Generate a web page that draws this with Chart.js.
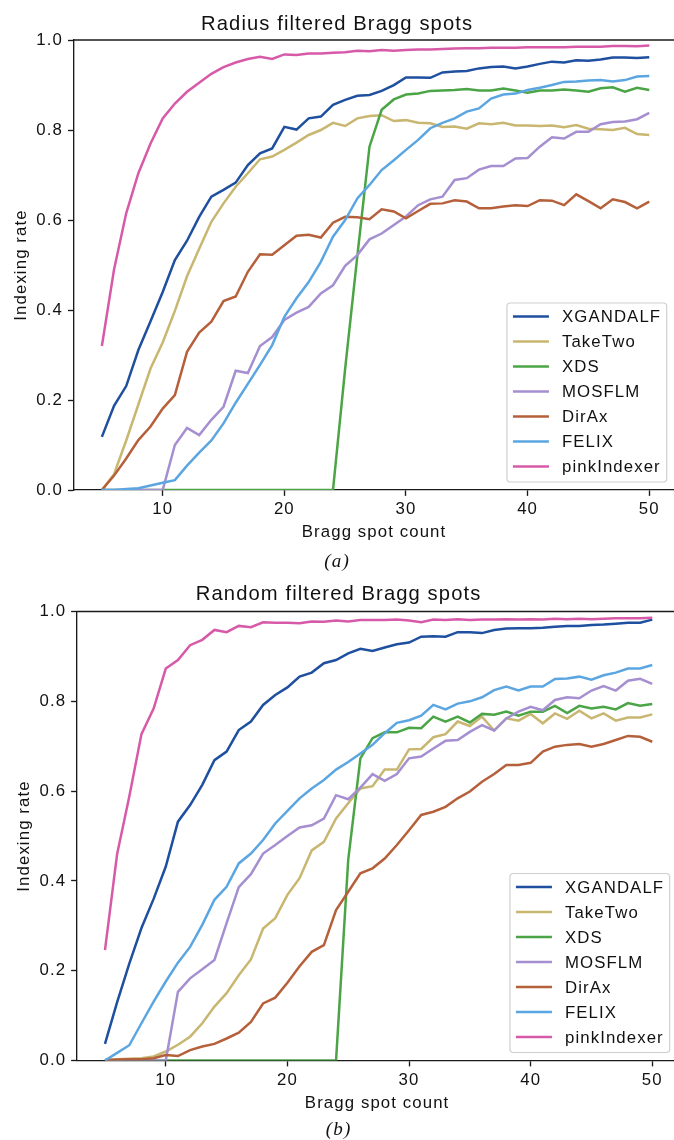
<!DOCTYPE html>
<html><head><meta charset="utf-8">
<script src="https://cdn.jsdelivr.net/npm/chart.js@4.4.1/dist/chart.umd.min.js"></script>
<style>
html,body{margin:0;padding:0;background:#fff;width:674px;height:1140px;overflow:hidden;position:relative;}
.wrap{position:absolute;left:0;width:680px;}
</style></head><body>
<div class="wrap" style="top:0;height:575px"><canvas id="c1"></canvas></div>
<div class="wrap" style="top:570px;height:570px"><canvas id="c2"></canvas></div>
<script>
// ---------- data ----------
const counts = [5,6,7,8,9,10,11,12,13,14,15,16,17,18,19,20,21,22,23,24,25,26,27,28,29,30,31,32,33,34,35,36,37,38,39,40,41,42,43,44,45,46,47,48,49,50];
const seriesNames = ['XGANDALF','TakeTwo','XDS','MOSFLM','DirAx','FELIX','pinkIndexer'];
const seriesColors = ['#1f4f9f','#c8b671','#4ba546','#a58fd0','#b5603b','#5ba6e1','#d75aa9'];
const xTickValues = [10,20,30,40,50];
const yTickValues = [0,0.2,0.4,0.6,0.8,1.0];

// (a) Radius filtered
const radXgandalf = [0.118,0.187,0.231,0.311,0.375,0.44,0.511,0.554,0.607,0.652,0.667,0.683,0.722,0.748,0.759,0.807,0.801,0.826,0.83,0.856,0.867,0.876,0.878,0.887,0.90,0.917,0.917,0.916,0.928,0.93,0.931,0.937,0.94,0.941,0.937,0.941,0.947,0.952,0.95,0.955,0.954,0.957,0.961,0.961,0.96,0.962];
const radTakeTwo = [0.0,0.035,0.11,0.19,0.27,0.328,0.398,0.475,0.536,0.596,0.637,0.674,0.704,0.735,0.741,0.756,0.772,0.789,0.80,0.816,0.809,0.826,0.831,0.833,0.82,0.822,0.816,0.815,0.807,0.808,0.803,0.815,0.813,0.816,0.81,0.81,0.809,0.81,0.806,0.811,0.803,0.802,0.80,0.805,0.791,0.789];
const radXds = [0,0,0,0,0,0,0,0,0,0,0,0,0,0,0,0,0,0,0,0,0.27,0.52,0.763,0.845,0.868,0.879,0.881,0.887,0.888,0.889,0.891,0.888,0.888,0.892,0.888,0.883,0.888,0.888,0.89,0.888,0.885,0.893,0.895,0.885,0.894,0.889];
const radMosflm = [0,0,0,0,0,0,0.10,0.138,0.122,0.156,0.185,0.265,0.26,0.32,0.34,0.378,0.394,0.407,0.437,0.455,0.498,0.522,0.557,0.57,0.589,0.608,0.633,0.646,0.652,0.689,0.693,0.712,0.72,0.72,0.737,0.738,0.763,0.784,0.781,0.796,0.796,0.813,0.818,0.819,0.824,0.838];
const radDirax = [0.0,0.032,0.07,0.111,0.141,0.181,0.211,0.307,0.35,0.374,0.42,0.43,0.485,0.524,0.523,0.544,0.565,0.567,0.561,0.594,0.607,0.606,0.602,0.624,0.619,0.604,0.62,0.636,0.637,0.644,0.641,0.626,0.626,0.63,0.633,0.631,0.644,0.643,0.633,0.657,0.642,0.626,0.646,0.64,0.626,0.641];
const radFelix = [0,0,0.002,0.004,0.01,0.016,0.022,0.054,0.083,0.11,0.148,0.194,0.236,0.278,0.322,0.385,0.426,0.462,0.507,0.563,0.60,0.648,0.678,0.711,0.733,0.756,0.778,0.804,0.816,0.826,0.841,0.848,0.87,0.879,0.881,0.889,0.894,0.90,0.907,0.908,0.91,0.911,0.908,0.911,0.919,0.92];
const radPink = [0.32,0.49,0.615,0.704,0.77,0.826,0.859,0.885,0.905,0.925,0.94,0.95,0.958,0.963,0.958,0.968,0.967,0.97,0.97,0.972,0.973,0.976,0.975,0.978,0.976,0.978,0.979,0.979,0.98,0.981,0.982,0.982,0.983,0.983,0.983,0.984,0.984,0.984,0.984,0.985,0.985,0.985,0.987,0.987,0.986,0.988];

// (b) Random filtered
const rndXgandalf = [0.037,0.13,0.216,0.295,0.36,0.432,0.532,0.569,0.614,0.669,0.688,0.736,0.755,0.792,0.814,0.831,0.855,0.864,0.885,0.892,0.907,0.917,0.912,0.92,0.927,0.931,0.944,0.945,0.944,0.954,0.954,0.952,0.959,0.962,0.963,0.963,0.964,0.966,0.968,0.968,0.97,0.971,0.973,0.975,0.975,0.982];
const rndTakeTwo = [0.002,0.003,0.004,0.005,0.009,0.02,0.035,0.053,0.083,0.12,0.15,0.19,0.225,0.294,0.317,0.369,0.406,0.468,0.487,0.539,0.573,0.606,0.611,0.648,0.648,0.693,0.694,0.72,0.727,0.755,0.745,0.766,0.735,0.762,0.757,0.772,0.751,0.773,0.761,0.779,0.762,0.773,0.757,0.764,0.764,0.771];
const rndXds = [0,0,0,0,0,0,0,0,0,0,0,0,0,0,0,0,0,0,0,0,0.447,0.673,0.718,0.731,0.731,0.741,0.74,0.766,0.755,0.766,0.753,0.772,0.77,0.777,0.768,0.777,0.777,0.79,0.774,0.79,0.784,0.788,0.782,0.796,0.79,0.794];
const rndMosflm = [0,0,0,0,0,0,0.153,0.183,0.203,0.224,0.306,0.386,0.415,0.461,0.48,0.50,0.519,0.524,0.539,0.591,0.582,0.608,0.638,0.623,0.638,0.673,0.677,0.695,0.712,0.714,0.732,0.747,0.735,0.762,0.777,0.788,0.78,0.803,0.809,0.807,0.824,0.834,0.824,0.846,0.85,0.839];
const rndDirax = [0.0,0.002,0.003,0.003,0.005,0.012,0.01,0.023,0.031,0.037,0.049,0.062,0.086,0.127,0.14,0.173,0.21,0.242,0.257,0.335,0.376,0.417,0.428,0.45,0.48,0.513,0.547,0.554,0.565,0.584,0.599,0.621,0.638,0.658,0.658,0.663,0.688,0.699,0.703,0.705,0.699,0.705,0.714,0.723,0.721,0.71];
const rndFelix = [0.0,0.017,0.034,0.083,0.131,0.176,0.218,0.253,0.302,0.358,0.387,0.439,0.461,0.491,0.528,0.556,0.584,0.606,0.625,0.648,0.665,0.684,0.703,0.729,0.752,0.758,0.768,0.792,0.782,0.795,0.80,0.809,0.825,0.833,0.824,0.833,0.833,0.85,0.851,0.855,0.848,0.858,0.864,0.873,0.873,0.881];
const rndPink = [0.246,0.46,0.588,0.727,0.784,0.873,0.892,0.925,0.937,0.959,0.954,0.968,0.965,0.976,0.975,0.975,0.974,0.978,0.977,0.98,0.978,0.981,0.981,0.981,0.982,0.98,0.976,0.982,0.981,0.983,0.981,0.982,0.982,0.983,0.982,0.983,0.982,0.984,0.983,0.984,0.983,0.984,0.985,0.985,0.985,0.986];

// ---------- plugins ----------
const FONT = "'Liberation Sans', Arial, sans-serif";
const LETTER_SPACING = '1.1px';
const INK = '#111111';
const SPINE = '#1a1a1a';

const spacing = {
  id: 'spacing',
  beforeUpdate(chart) { chart.ctx.letterSpacing = LETTER_SPACING; },
  beforeLayout(chart) { chart.ctx.letterSpacing = LETTER_SPACING; },
  beforeDraw(chart) { chart.ctx.letterSpacing = LETTER_SPACING; }
};

const topSpine = {
  id: 'topSpine',
  afterDatasetsDraw(chart) {
    const {ctx, chartArea: ca} = chart;
    ctx.save();
    ctx.strokeStyle = SPINE; ctx.lineWidth = 1.35;
    ctx.beginPath(); ctx.moveTo(ca.left - 0.7, ca.top); ctx.lineTo(ca.right + 1, ca.top); ctx.stroke();
    ctx.restore();
  }
};

const boxLegend = {
  id: 'boxLegend',
  afterDraw(chart, args, o) {
    const {ctx, chartArea: ca} = chart;
    const ds = chart.data.datasets;
    ctx.save();
    ctx.letterSpacing = LETTER_SPACING;
    ctx.font = `${o.fontSize}px ${FONT}`;
    const tw = Math.max(...ds.map(d => ctx.measureText(d.label).width));
    const w = o.padL + o.handle + o.gap + tw + o.padR;
    const h = o.padT + (ds.length - 1) * o.rowH + o.padB;
    const x1 = ca.right - o.right, x0 = x1 - w;
    const y1 = ca.bottom - o.bottom, y0 = y1 - h;
    const r = o.radius;
    ctx.beginPath();
    ctx.moveTo(x0 + r, y0);
    ctx.lineTo(x1 - r, y0); ctx.arcTo(x1, y0, x1, y0 + r, r);
    ctx.lineTo(x1, y1 - r); ctx.arcTo(x1, y1, x1 - r, y1, r);
    ctx.lineTo(x0 + r, y1); ctx.arcTo(x0, y1, x0, y1 - r, r);
    ctx.lineTo(x0, y0 + r); ctx.arcTo(x0, y0, x0 + r, y0, r);
    ctx.closePath();
    ctx.fillStyle = 'rgba(255,255,255,0.8)'; ctx.fill();
    ctx.lineWidth = 1.2; ctx.strokeStyle = '#cfcfcf'; ctx.stroke();
    ds.forEach((d, i) => {
      const y = y0 + o.padT + i * o.rowH;
      ctx.beginPath();
      ctx.moveTo(x0 + o.padL, y); ctx.lineTo(x0 + o.padL + o.handle, y);
      ctx.strokeStyle = d.borderColor; ctx.lineWidth = d.borderWidth; ctx.lineCap = 'butt';
      ctx.stroke();
      ctx.fillStyle = INK; ctx.textBaseline = 'middle'; ctx.textAlign = 'left';
      ctx.fillText(d.label, x0 + o.padL + o.handle + o.gap, y + 1);
    });
    ctx.restore();
  }
};

// ---------- chart builder ----------
function makeChart(id, cfg) {
  const datasets = cfg.series.map((vals, i) => ({
    label: seriesNames[i],
    data: counts.map((c, k) => ({x: c, y: vals[k]})),
    borderColor: seriesColors[i],
    backgroundColor: seriesColors[i],
    borderWidth: 2.5,
    pointRadius: 0,
    tension: 0,
    fill: false,
    order: seriesNames.length - i
  }));
  return new Chart(document.getElementById(id), {
    type: 'line',
    data: {datasets},
    plugins: [spacing, topSpine, boxLegend],
    options: {
      responsive: true,
      maintainAspectRatio: false,
      animation: false,
      events: [],
      layout: {padding: {left: 0, right: cfg.padRight, top: 0, bottom: 0}},
      plugins: {
        legend: {display: false},
        tooltip: {enabled: false},
        title: {
          display: true, text: cfg.title, color: INK,
          font: {family: FONT, size: 20.2, weight: 'normal', lineHeight: 1.2},
          padding: {top: cfg.titlePadTop, bottom: cfg.titlePadBottom}
        },
        subtitle: {
          display: true, position: 'bottom', text: cfg.caption, color: INK,
          font: {family: "'Liberation Serif', 'DejaVu Serif', serif", style: 'italic', size: 19, weight: 'normal', lineHeight: 1},
          padding: {top: 0, bottom: cfg.capPadBottom}
        },
        boxLegend: {fontSize: 16.8, padL: 6, handle: 36, gap: 13, padR: 5.5, padT: 13.5, rowH: 25, padB: 15.5, right: 7.5, bottom: 8, radius: 3.4}
      },
      scales: {
        x: {
          type: 'linear', min: 2.7, max: 52.05,
          afterBuildTicks: s => { s.ticks = xTickValues.map(v => ({value: v})); },
          afterFit: s => { s.height = cfg.xAxisHeight; },
          ticks: {color: INK, font: {family: FONT, size: 16.8, lineHeight: 1.2}, padding: cfg.xTickPad, maxRotation: 0, autoSkip: false, callback: v => String(v)},
          grid: {display: true, drawOnChartArea: false, drawTicks: true, tickLength: 5.9, tickColor: SPINE, tickWidth: 1.35},
          border: {display: true, color: SPINE, width: 1.35},
          title: {display: true, text: 'Bragg spot count', color: INK, font: {family: FONT, size: 16.8, lineHeight: 1.2}, padding: {top: 0, bottom: cfg.xTitlePadBottom}}
        },
        y: {
          type: 'linear', min: 0, max: 1,
          afterBuildTicks: s => { s.ticks = yTickValues.map(v => ({value: v})); },
          afterFit: s => { s.width = cfg.yAxisWidth; },
          ticks: {color: INK, font: {family: FONT, size: 16.8, lineHeight: 1.2}, padding: 5, autoSkip: false, callback: v => Number(v).toFixed(1)},
          grid: {display: true, drawOnChartArea: false, drawTicks: true, tickLength: 5.9, tickColor: SPINE, tickWidth: 1.35},
          border: {display: true, color: SPINE, width: 1.35},
          title: {display: true, text: 'Indexing rate', color: INK, font: {family: FONT, size: 16.8, lineHeight: 1.2}, padding: {top: cfg.yTitlePad, bottom: 0}}
        }
      }
    }
  });
}

makeChart('c1', {
  title: 'Radius filtered Bragg spots', caption: '(a)',
  series: [radXgandalf, radTakeTwo, radXds, radMosflm, radDirax, radFelix, radPink],
  padRight: 5.8, titlePadTop: 11.9, titlePadBottom: 3.9,
  capPadBottom: 3.8, xAxisHeight: 62.2, xTitlePadBottom: 9.8, xTickPad: 3.5,
  yAxisWidth: 73.9, yTitlePad: 11.5
});
makeChart('c2', {
  title: 'Random filtered Bragg spots', caption: '(b)',
  series: [rndXgandalf, rndTakeTwo, rndXds, rndMosflm, rndDirax, rndFelix, rndPink],
  padRight: 2.8, titlePadTop: 12.6, titlePadBottom: 4.7,
  capPadBottom: 0.5, xAxisHeight: 60, xTitlePadBottom: 7.1, xTickPad: 3.5,
  yAxisWidth: 77.0, yTitlePad: 14.6
});
</script>
</body></html>
